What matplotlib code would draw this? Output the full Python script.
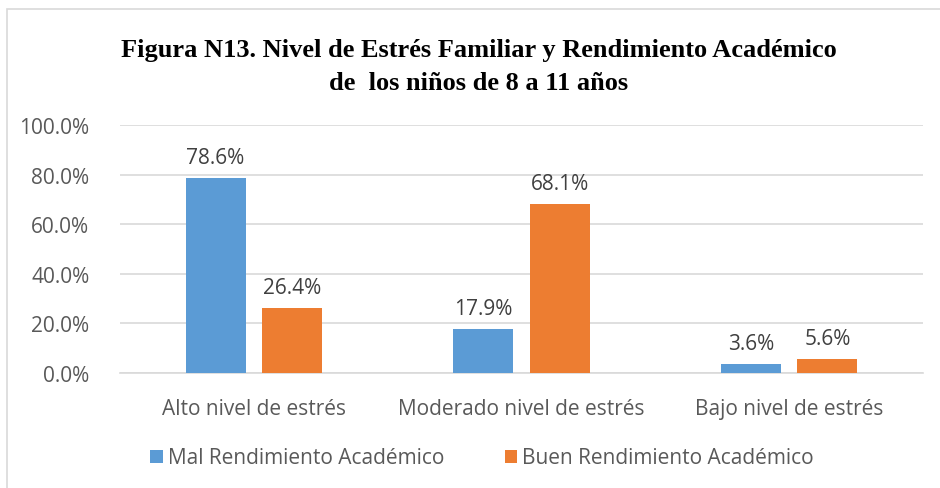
import matplotlib
matplotlib.use("Agg")
import matplotlib.pyplot as plt
from matplotlib.patches import Rectangle
import numpy as np

categories = ["Alto nivel de estrés", "Moderado nivel de estrés", "Bajo nivel de estrés"]
series_names = ["Mal Rendimiento Académico", "Buen Rendimiento Académico"]
mal = [78.6, 17.9, 3.6]
buen = [26.4, 68.1, 5.6]
yticks = [0, 20, 40, 60, 80, 100]
colors = ["#5B9BD5", "#ED7D31"]

fig = plt.figure(figsize=(9.4, 4.89), dpi=100)
fig.patches.append(Rectangle((7/940, -0.1), 2, 1.1 - 10/489, transform=fig.transFigure,
                             fill=False, edgecolor="#D9D9D9", linewidth=1.2))

ax = fig.add_axes([120/940, 1 - 374/489, 803/940, (374 - 126)/489])
x = np.arange(len(categories))
w = 0.224
off = 0.143
b1 = ax.bar(x - off, mal, w, color=colors[0], label=series_names[0], zorder=3)
b2 = ax.bar(x + off, buen, w, color=colors[1], label=series_names[1], zorder=3)
for bars, vals in ((b1, mal), (b2, buen)):
    for r, v in zip(bars, vals):
        ax.text(r.get_x() + r.get_width() / 2, v + 4.0, f"{v:.1f}%", ha="center", va="bottom",
                fontsize=15, color="#404040", family="Open Sans")

ax.set_xlim(-0.5, 2.5)
ax.set_ylim(0, 100)
ax.set_yticks(yticks)
ax.set_yticklabels([f"{t:.1f}%" for t in yticks], family="Open Sans", fontsize=15, color="#595959")
ax.set_xticks(x)
ax.set_xticklabels(categories, family="Open Sans", fontsize=15, color="#595959")
ax.tick_params(axis="both", length=0)
ax.tick_params(axis="y", pad=22)
ax.tick_params(axis="x", pad=18)
ax.grid(axis="y", color="#D9D9D9", linewidth=1.2, zorder=0)
for s in ["top", "right", "left"]:
    ax.spines[s].set_visible(False)
ax.spines["bottom"].set_color("#D9D9D9")
ax.spines["bottom"].set_linewidth(1.2)

fig.text(479/940, 1 - 57/489, "Figura N13. Nivel de Estrés Familiar y Rendimiento Académico",
         ha="center", va="baseline", family="Liberation Serif", fontweight="bold", fontsize=19, color="black")
fig.text(479/940, 1 - 90/489, "de  los niños de 8 a 11 años",
         ha="center", va="baseline", family="Liberation Serif", fontweight="bold", fontsize=19, color="black")

leg = fig.legend(handles=[b1, b2], loc="center", bbox_to_anchor=(482/940, 1 - 459/489), ncol=2,
                 frameon=False, prop={"family": "Open Sans", "size": 15}, handlelength=0.6,
                 handleheight=0.6, handletextpad=0.25, columnspacing=2.9)
for t in leg.get_texts():
    t.set_color("#595959")

fig.savefig("out.png", dpi=100)
